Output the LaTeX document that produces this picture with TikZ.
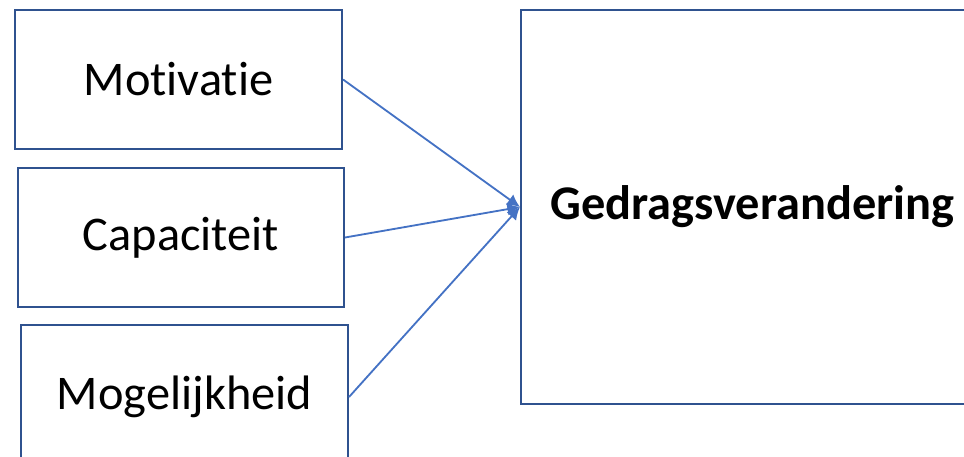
\documentclass[tikz,border=0pt]{standalone}
\usepackage{fontspec}
\setmainfont[Ligatures={NoCommon}]{Carlito}
\usepackage{tikz}
\usetikzlibrary{arrows.meta,positioning}
\definecolor{boxblue}{RGB}{47,82,143}
\definecolor{arrowblue}{RGB}{68,114,196}
\tikzset{
    block/.style={rectangle, draw=boxblue, line width=1.4pt, fill=white, text=black, align=center, inner sep=0pt, font=\fontsize{34.4}{41}\selectfont},
    line/.style={draw=arrowblue, line width=1.3pt, -{Latex[length=9pt,width=9pt]}}
}
\begin{document}
\begin{tikzpicture}[x=0.025cm,y=-0.025cm]
    \useasboundingbox (0,0) rectangle (964,457);
    \clip (0,0) rectangle (964,457);

    % Factors
    \node[block, minimum width=8.175cm, minimum height=3.475cm] at (178.5,79.5) (motivatie) {Motivatie};
    \node[block, minimum width=8.15cm, minimum height=3.475cm] at (181,237.5) (capaciteit) {Capaciteit};
    \node[block, minimum width=8.175cm, minimum height=3.6cm] at (184.5,397) (mogelijkheid) {Mogelijkheid};

    % Outcome
    \node[block, minimum width=11.575cm, minimum height=9.85cm] at (752.5,207) (gedrag) {\textbf{Gedragsverandering}};

    % Connectors
    \draw[line] (motivatie.east) -- (gedrag.west);
    \draw[line] (capaciteit.east) -- (gedrag.west);
    \draw[line] (mogelijkheid.east) -- (gedrag.west);
\end{tikzpicture}
\end{document}
